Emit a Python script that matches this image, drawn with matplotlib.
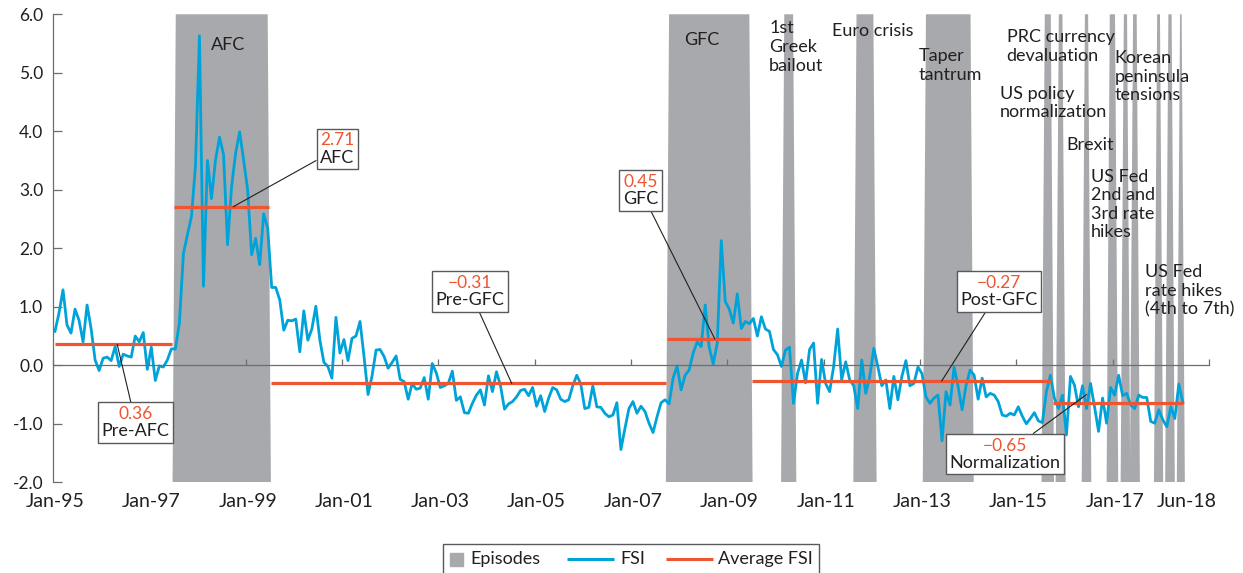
import numpy as np
import matplotlib
matplotlib.use("Agg")
import matplotlib.pyplot as plt
import matplotlib.patches as mpatches
from matplotlib.lines import Line2D
from matplotlib.ticker import FormatStrFormatter
from matplotlib.offsetbox import TextArea, VPacker, HPacker, DrawingArea, AnnotationBbox, AnchoredOffsetbox

plt.rcParams['font.family'] = ['Lato', 'DejaVu Sans']
plt.rcParams['axes.unicode_minus'] = False

# FSI, monthly from Jan-95 to Jun-18
fsi = [
    0.58, 0.89, 1.29, 0.69, 0.55, 0.96, 0.77, 0.40, 1.03, 0.63, 0.09, -0.09,      # 1995
    0.12, 0.14, 0.08, 0.32, -0.02, 0.19, 0.16, 0.14, 0.50, 0.40, 0.56, -0.07,     # 1996
    0.31, -0.26, -0.01, -0.03, 0.09, 0.28, 0.28, 0.72, 1.91, 2.23, 2.54, 3.40,    # 1997
    5.63, 1.35, 3.50, 2.85, 3.51, 3.90, 3.60, 2.06, 3.05, 3.62, 3.99, 3.51,       # 1998
    3.00, 1.89, 2.17, 1.72, 2.59, 2.34, 1.33, 1.33, 1.12, 0.60, 0.77, 0.76,       # 1999
    0.79, 0.23, 0.93, 0.43, 0.62, 1.01, 0.43, 0.05, -0.02, -0.22, 0.82, 0.21,     # 2000
    0.44, 0.08, 0.46, 0.50, 0.75, 0.15, -0.50, -0.18, 0.26, 0.27, 0.15, -0.05,    # 2001
    0.05, 0.16, -0.24, -0.28, -0.58, -0.31, -0.41, -0.39, -0.21, -0.58, 0.03, -0.13,   # 2002
    -0.38, -0.35, -0.31, -0.10, -0.60, -0.54, -0.81, -0.82, -0.65, -0.51, -0.42, -0.68,  # 2003
    -0.18, -0.45, -0.11, -0.35, -0.75, -0.66, -0.62, -0.54, -0.43, -0.41, -0.52, -0.38,  # 2004
    -0.70, -0.52, -0.79, -0.56, -0.38, -0.42, -0.58, -0.62, -0.59, -0.35, -0.17, -0.32,  # 2005
    -0.74, -0.72, -0.35, -0.71, -0.72, -0.82, -0.88, -0.85, -0.64, -1.44, -1.08, -0.74,  # 2006
    -0.62, -0.82, -0.70, -0.79, -0.99, -1.15, -0.88, -0.64, -0.59, -0.66, -0.22, -0.01,  # 2007
    -0.42, -0.17, -0.08, 0.21, 0.40, 0.32, 1.03, 0.31, 0.02, 0.38, 2.13, 1.09,    # 2008
    0.96, 0.72, 1.22, 0.63, 0.75, 0.71, 0.80, 0.50, 0.83, 0.62, 0.58, 0.27,       # 2009
    0.18, -0.02, 0.26, 0.31, -0.65, -0.14, 0.09, -0.30, 0.27, 0.38, -0.65, 0.10,  # 2010
    -0.31, -0.45, -0.02, 0.62, -0.25, 0.06, -0.25, -0.35, -0.74, 0.09, -0.48, -0.19,   # 2011
    0.29, -0.02, -0.35, -0.25, -0.74, -0.19, -0.59, -0.19, 0.08, -0.35, -0.31, -0.03,  # 2012
    -0.14, -0.54, -0.65, -0.56, -0.51, -1.29, -0.45, -0.68, -0.03, -0.36, -0.76, -0.34,  # 2013
    -0.08, -0.17, -0.58, -0.22, -0.54, -0.48, -0.51, -0.62, -0.85, -0.87, -0.82, -0.85,  # 2014
    -0.71, -0.87, -1.00, -0.91, -0.81, -0.95, -0.98, -0.45, -0.17, -0.56, -0.74, -0.51,  # 2015
    -1.19, -0.19, -0.34, -0.71, -0.35, -0.74, -0.31, -0.71, -1.13, -0.56, -0.99, -0.38,  # 2016
    -0.51, -0.17, -0.52, -0.48, -0.68, -0.74, -0.51, -0.55, -0.55, -0.96, -0.99, -0.76,  # 2017
    -0.93, -1.05, -0.71, -0.91, -0.32, -0.64,                                      # 2018
]
months = np.arange(len(fsi))  # 0 = Jan-95

# episodes, in months since Jan-95 (top edge of each shaded band)
episode_start = [30.1, 153.0, 181.7, 199.7, 217.0, 246.6, 250.1, 256.6, 262.8, 266.3, 268.6, 274.6, 277.4, 280.3]
episode_end = [53.0, 173.0, 183.9, 203.9, 228.1, 248.1, 251.0, 257.4, 264.1, 267.1, 269.5, 275.3, 278.2, 280.7]

# average FSI per period
avg_names = ["Pre-AFC", "AFC", "Pre-GFC", "GFC", "Post-GFC", "Normalization"]
avg_values = [0.36, 2.71, -0.31, 0.45, -0.27, -0.65]
avg_start = [0.0, 29.7, 53.8, 152.6, 173.6, 248.7]
avg_end = [29.1, 53.4, 152.2, 173.2, 248.1, 281.0]
# where the labelled boxes sit and where their leader lines point
box_xy = [(20.1, -0.98), (70.3, 3.70), (103.4, 1.26), (145.9, 2.99), (235.1, 1.26), (236.7, -1.52)]
box_target = [(15.5, 0.36), (44.4, 2.71), (113.8, -0.31), (164.4, 0.45), (220.9, -0.27), (257.0, -0.50)]

# episode names on top
episode_labels = ["AFC", "GFC", "1st\nGreek\nbailout", "Euro crisis", "Taper\ntantrum",
                  "PRC currency\ndevaluation", "US policy\nnormalization", "Korean\npeninsula\ntensions",
                  "Brexit", "US Fed\n2nd and\n3rd rate\nhikes", "US Fed\nrate hikes\n(4th to 7th)"]
episode_label_xy = [(43.1, 5.48), (161.2, 5.56), (177.9, 5.44), (193.6, 5.71), (215.1, 5.12),
                    (237.1, 5.45), (235.4, 4.48), (264.0, 4.93), (251.9, 3.77), (258.1, 2.75), (271.6, 1.27)]

# x axis labels
xlabel_pos = [0, 24, 48, 72, 96, 120, 144, 168, 192, 216, 240, 264, 282]
xlabels = ["Jan-95", "Jan-97", "Jan-99", "Jan-01", "Jan-03", "Jan-05", "Jan-07", "Jan-09",
           "Jan-11", "Jan-13", "Jan-15", "Jan-17", "Jun-18"]

blue = "#00a3d9"
red = "#ee5531"
grey = "#a7a9ac"
dark = "#231f20"
axis_grey = "#6d6e71"

fig = plt.figure(figsize=(12.43, 5.73), dpi=100)
ax = fig.add_axes([0.0426, 0.1583, 0.9300, 0.8168])

# shaded episodes (slightly sloped edges like the original area chart)
slope = 0.8
for s, e in zip(episode_start, episode_end):
    ax.fill([s - slope, s, e, e + slope], [-2, 6, 6, -2], color=grey, lw=0, zorder=1)

ax.plot(months, fsi, color=blue, lw=2.0, zorder=3, solid_joinstyle='round')

for v, s, e in zip(avg_values, avg_start, avg_end):
    ax.plot([s, e], [v, v], color=red, lw=2.3, zorder=4, solid_capstyle='butt')

# boxed labels of the averages
for name, v, bxy, target in zip(avg_names, avg_values, box_xy, box_target):
    num = f"{v:.2f}".replace("-", "\u2212")
    top = TextArea(num, textprops=dict(color=red, size=12.5))
    bottom = TextArea(name, textprops=dict(color=dark, size=13))
    pack = VPacker(children=[top, bottom], align="center", pad=0, sep=1)
    ab = AnnotationBbox(pack, target, xybox=bxy, xycoords='data', boxcoords='data',
                        frameon=True, pad=0.25,
                        bboxprops=dict(edgecolor="#58595b", linewidth=1.0, facecolor="white"),
                        arrowprops=dict(arrowstyle='-', color=dark, lw=0.8, shrinkA=0, shrinkB=0),
                        zorder=6)
    ax.add_artist(ab)

for i, (lab, (x, y)) in enumerate(zip(episode_labels, episode_label_xy)):
    ha = "center" if i < 2 else "left"
    ax.text(x, y, lab, ha=ha, va="center", fontsize=13, color=dark, linespacing=1.2, zorder=5)

ax.set_xlim(-0.5, 287.5)
ax.set_ylim(-2, 6)

# y axis
ax.set_yticks(range(-2, 7))
ax.yaxis.set_major_formatter(FormatStrFormatter('%.1f'))
ax.tick_params(axis='y', direction='in', length=6.5, width=0.9, color=axis_grey,
               labelsize=12.5, labelcolor=dark, pad=7)
ax.spines['left'].set_color(axis_grey)
ax.spines['left'].set_linewidth(0.9)
ax.spines['top'].set_visible(False)
ax.spines['right'].set_visible(False)

# zero line carries the tick marks, labels sit at the bottom
ax.spines['bottom'].set_position(('data', 0))
ax.spines['bottom'].set_color(axis_grey)
ax.spines['bottom'].set_linewidth(0.9)
ax.spines['bottom'].set_zorder(5)
ax.set_xticks(np.arange(-0.5, 288, 24))
ax.tick_params(axis='x', direction='in', length=4.5, width=0.9, color=axis_grey, labelbottom=False)

sec = ax.secondary_xaxis('bottom')
sec.set_xticks(xlabel_pos, labels=xlabels)
sec.tick_params(length=0, pad=8, labelsize=14, labelcolor=dark)
sec.spines['bottom'].set_visible(False)


# legend built by hand so the square and the lines get their own widths
def spacer(w):
    return DrawingArea(w, 1)


def line_key(color):
    da = DrawingArea(34, 16)
    da.add_artist(Line2D([0, 34], [8, 8], color=color, lw=2.2, solid_capstyle='butt'))
    return da


square = DrawingArea(9.5, 16)
square.add_artist(mpatches.Rectangle((0, 3.25), 9.5, 9.5, color=grey))


def key_text(s):
    return TextArea(s, textprops=dict(size=13, color=dark))


row = HPacker(children=[spacer(2), square, spacer(5.5), key_text("Episodes"), spacer(19),
                        line_key(blue), spacer(4), key_text("FSI"), spacer(15),
                        line_key(red), spacer(4), key_text("Average FSI"), spacer(1)],
              align="center", pad=0, sep=0)
legend_box = AnchoredOffsetbox(loc='upper center', child=row, pad=0.3, borderpad=0, frameon=True,
                               bbox_to_anchor=(0.5075, 0.0506), bbox_transform=fig.transFigure)
legend_box.patch.set_edgecolor("#58595b")
legend_box.patch.set_linewidth(1.0)
legend_box.patch.set_boxstyle("square", pad=0)
fig.add_artist(legend_box)

fig.savefig("out.png", dpi=100)
